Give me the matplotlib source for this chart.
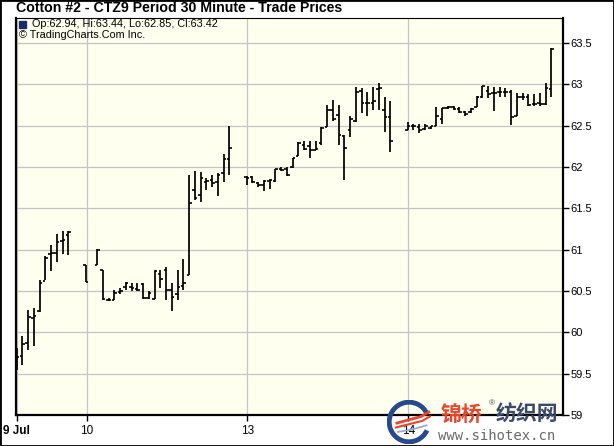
import matplotlib
matplotlib.use('Agg')
import matplotlib.pyplot as plt
from matplotlib.patches import Arc, Rectangle
from matplotlib.ticker import FuncFormatter, FixedLocator

# 30 minute bars; x is the bar slot (28 slots per trading day)
slots = [0, 1, 2, 3, 4, 5, 6, 7, 8, 9,
         12, 14, 15, 16, 17, 18, 19, 20, 21, 22, 23, 24, 25, 26, 27, 28, 29,
         30, 31, 32, 33, 34, 35, 36, 37,
         40, 41, 42, 43, 44, 45, 46, 47, 48, 49, 50, 51, 52, 53, 54, 55, 56,
         57, 58, 59, 60, 61, 62, 63, 64, 65,
         68, 69, 70, 71, 72, 73, 74, 75, 76, 77, 78, 79, 80, 81, 82, 83, 84,
         85, 86, 87, 88, 89, 90, 91, 92, 93]
opens = [59.80, 59.71, 59.87, 60.17, 60.26, 60.62, 60.95, 60.96, 61.10, 61.18,
         60.81, 60.81, 60.75, 60.39, 60.39, 60.49, 60.55, 60.55, 60.52, 60.58, 60.42, 60.40, 60.70, 60.75, 60.51, 60.46, 60.56,
         60.69, 61.72, 61.66, 61.82, 61.84, 61.82, 61.92, 62.09,
         61.88, 61.88, 61.80, 61.78, 61.83, 61.83, 61.97, 61.98, 62.00, 62.13, 62.26, 62.25, 62.21, 62.29, 62.48, 62.69, 62.63,
         62.37, 62.45, 62.56, 62.92, 62.77, 62.77, 62.94, 62.69, 62.60,
         62.44, 62.50, 62.48, 62.46, 62.47, 62.50, 62.58, 62.71, 62.72, 62.70, 62.66, 62.66, 62.72, 62.84, 62.92, 62.89, 62.90,
         62.91, 62.91, 62.62, 62.85, 62.84, 62.76, 62.77, 62.76, 62.94]
highs = [59.81, 59.96, 60.27, 60.29, 60.63, 60.92, 61.05, 61.19, 61.23, 61.23,
         60.81, 61.01, 60.75, 60.41, 60.51, 60.53, 60.61, 60.60, 60.60, 60.60, 60.50, 60.75, 60.75, 60.79, 60.59, 60.75, 60.89,
         61.90, 61.95, 61.94, 61.86, 61.90, 61.92, 62.16, 62.50,
         61.89, 61.89, 61.82, 61.84, 61.85, 61.98, 62.00, 62.00, 62.11, 62.30, 62.31, 62.31, 62.31, 62.48, 62.75, 62.81, 62.75,
         62.38, 62.62, 62.96, 62.95, 62.91, 62.97, 63.01, 62.85, 62.80,
         62.54, 62.52, 62.52, 62.52, 62.50, 62.72, 62.71, 62.73, 62.73, 62.72, 62.68, 62.71, 62.86, 62.98, 62.98, 62.97, 62.96,
         62.95, 62.93, 62.89, 62.89, 62.88, 62.88, 62.89, 63.01, 63.44]
lows = [59.55, 59.60, 59.78, 59.84, 60.24, 60.63, 60.74, 60.85, 60.95, 60.93,
        60.61, 60.81, 60.39, 60.38, 60.39, 60.46, 60.51, 60.50, 60.50, 60.40, 60.40, 60.40, 60.53, 60.39, 60.26, 60.39, 60.51,
        60.69, 61.60, 61.58, 61.72, 61.76, 61.65, 61.82, 61.90,
        61.78, 61.80, 61.76, 61.71, 61.73, 61.82, 61.95, 61.89, 61.99, 62.13, 62.20, 62.11, 62.20, 62.26, 62.48, 62.56, 62.26,
        61.84, 62.36, 62.54, 62.65, 62.62, 62.69, 62.69, 62.42, 62.18,
        62.44, 62.44, 62.41, 62.45, 62.46, 62.50, 62.52, 62.70, 62.69, 62.65, 62.62, 62.65, 62.72, 62.83, 62.83, 62.67, 62.85,
        62.85, 62.51, 62.61, 62.81, 62.74, 62.73, 62.73, 62.75, 62.85]
closes = [59.70, 59.86, 60.18, 60.20, 60.60, 60.90, 60.96, 61.09, 61.12, 61.21,
          60.61, 61.00, 60.40, 60.39, 60.48, 60.50, 60.60, 60.53, 60.51, 60.42, 60.47, 60.74, 60.65, 60.51, 60.43, 60.55, 60.60,
          61.56, 61.62, 61.86, 61.83, 61.81, 61.90, 62.09, 62.23,
          61.86, 61.82, 61.78, 61.83, 61.84, 61.98, 61.96, 61.90, 62.11, 62.29, 62.22, 62.20, 62.22, 62.47, 62.69, 62.58, 62.38,
          62.23, 62.58, 62.90, 62.77, 62.77, 62.80, 62.95, 62.60, 62.31,
          62.50, 62.50, 62.45, 62.50, 62.49, 62.61, 62.71, 62.72, 62.70, 62.66, 62.64, 62.70, 62.84, 62.98, 62.88, 62.89, 62.91,
          62.90, 62.60, 62.85, 62.85, 62.75, 62.76, 62.76, 62.95, 63.42]

day_slots = [0, 12.2, 40.1, 68.1]
day_labels = ['9 Jul', '10', '13', '14']
price_ticks = [59, 59.5, 60, 60.5, 61, 61.5, 62, 62.5, 63, 63.5]

W, H = 614, 446
plt.rcParams['font.family'] = ['Liberation Sans', 'DejaVu Sans']

fig = plt.figure(figsize=(W / 100, H / 100), dpi=100)
fig.set_facecolor('white')

# plot area in pixels: left 16, right 563, top 18, bottom 415
ax = fig.add_axes([16 / W, 1 - 415 / H, (563 - 16) / W, (415 - 18) / H])
ax.set_facecolor('#FFFFEF')
ax.set_xlim(-0.1, 95.0)
ax.set_ylim(59, 63.80)

# grid
ax.xaxis.set_major_locator(FixedLocator(day_slots))
ax.yaxis.set_major_locator(FixedLocator(price_ticks))
ax.grid(True, color='#C4C4C4', linewidth=0.9)
ax.set_axisbelow(True)

# ohlc bars
tick_w = 0.45
xs = [s for s in slots]
ax.vlines(xs, lows, highs, color='black', linewidth=1.25, zorder=3)
ax.hlines(opens, [x - tick_w for x in xs], xs, color='black', linewidth=1.2, zorder=3)
ax.hlines(closes, xs, [x + tick_w for x in xs], color='black', linewidth=1.2, zorder=3)

# axes styling
for side in ['left', 'bottom', 'right']:
    ax.spines[side].set_color('black')
    ax.spines[side].set_linewidth(1.6)
ax.spines['top'].set_color('black')
ax.spines['top'].set_linewidth(0.8)

ax.yaxis.tick_right()
ax.yaxis.set_major_formatter(FuncFormatter(lambda v, p: '%g' % v))
ax.tick_params(axis='y', direction='out', length=4, width=1, pad=1.5, labelsize=8, colors='black')
ax.set_xticklabels(day_labels)
ax.tick_params(axis='x', direction='out', length=4, width=1, pad=3, labelsize=8.5)
ax.get_xticklabels()[0].set_fontweight('bold')

# title and info lines
fig.text(16 / W, 1 - 8 / H, 'Cotton #2 - CTZ9 Period 30 Minute - Trade Prices',
         fontsize=10.2, fontweight='bold', va='center', ha='left')
fig.patches.append(Rectangle((19 / W, 1 - 28 / H), 7 / W, 7 / H, transform=fig.transFigure,
                             facecolor='#1C2A6B', edgecolor='#1C2A6B'))
fig.text(32 / W, 1 - 24 / H, 'Op:62.94, Hi:63.44, Lo:62.85, Cl:63.42',
         fontsize=7.8, va='center', ha='left')
fig.text(19 / W, 1 - 35 / H, '\u00a9 TradingCharts.Com Inc.',
         fontsize=7.8, va='center', ha='left')

# watermark
fig.text(441 / W, 1 - 414 / H, '锦桥', color='#E8462C', fontsize=15, fontweight='bold',
         family=['Noto Sans CJK SC'], va='center', ha='left')
fig.text(489 / W, 1 - 404 / H, '®', color='#3B4A6B', fontsize=6, va='center', ha='left')
fig.text(496 / W, 1 - 414 / H, '纺织网', color='#3B4A6B', fontsize=15, fontweight='bold',
         family=['Noto Sans CJK SC'], va='center', ha='left')
fig.text(438 / W, 1 - 436 / H, 'www.sihotex.cn', color='#6A6A6A', fontsize=10,
         family=['DejaVu Sans Mono'], va='center', ha='left')

lax = fig.add_axes([387 / W, 1 - 444 / H, 44 / W, 44 / H])
lax.set_xlim(-1, 1)
lax.set_ylim(-1, 1)
lax.axis('off')
lax.patch.set_alpha(0)
lax.add_patch(Arc((0, 0), 1.8, 1.8, theta1=25, theta2=335, color='#274A8C', linewidth=3.5))
lax.plot([-0.55, 0.0, 0.55, 0.9], [-0.05, 0.1, 0.25, 0.45], color='#E8462C', linewidth=2)
lax.plot([-0.6, 0.0, 0.6, 0.95], [-0.25, -0.1, 0.05, 0.25], color='#E8462C', linewidth=1.5)
lax.plot([-0.5, 0.1, 0.8], [-0.45, -0.35, -0.15], color='#8FA8D0', linewidth=1.2)

# outer frame
fig.patches.append(Rectangle((0, 0), 1, 1, transform=fig.transFigure, fill=False,
                             edgecolor='black', linewidth=2))

plt.savefig('out.png', dpi=100)
